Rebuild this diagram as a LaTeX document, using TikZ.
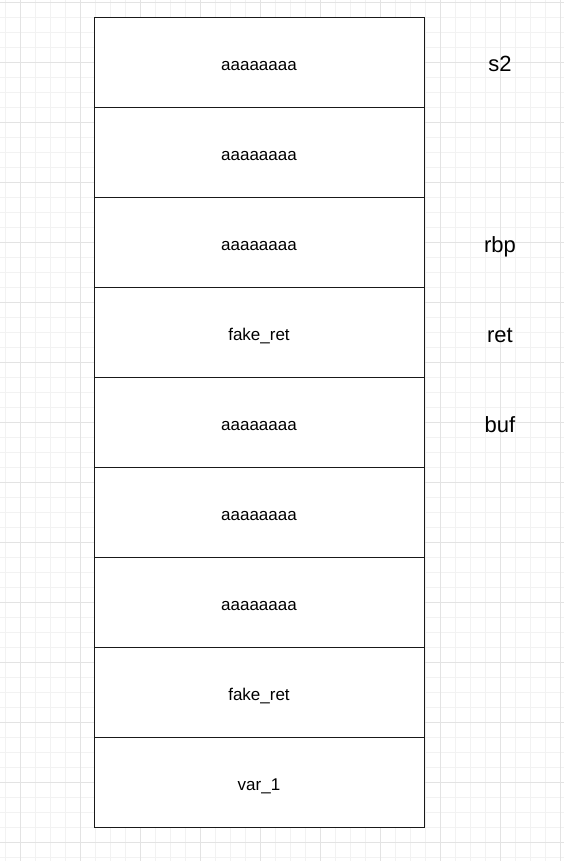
\documentclass[tikz,border=0pt]{standalone}
\usepackage{fontspec}
\setmainfont{Liberation Sans}
\begin{document}
\begin{tikzpicture}[
    x=1pt, y=-1pt,
    cell/.style={rectangle, minimum width=330pt, minimum height=90pt, text centered, text height=17pt, text depth=0pt, draw=black!90, fill=white, line width=0.9pt, font=\fontsize{17}{20}\selectfont},
    side/.style={text height=16pt, text depth=0pt, font=\fontsize{22}{26}\selectfont},
    minorgrid/.style={draw=black!5, line width=0.8pt},
    majorgrid/.style={draw=black!11, line width=0.8pt}
  ]
    \useasboundingbox[fill=white] (0,0) rectangle (564,861);
    \begin{scope}[shift={(20,2)}]
      \draw[minorgrid, step=15pt] (-20,-2) grid (544,859);
      \draw[majorgrid, step=60pt] (-20,-2) grid (544,859);
    \end{scope}

    \node[cell] (pad1) at (259, 62) {aaaaaaaa};
    \node[cell] (pad2) at (259, 152) {aaaaaaaa};
    \node[cell] (pad3) at (259, 242) {aaaaaaaa};
    \node[cell] (ret1) at (259, 332) {fake\_ret};
    \node[cell] (buf1) at (259, 422) {aaaaaaaa};
    \node[cell] (buf2) at (259, 512) {aaaaaaaa};
    \node[cell] (buf3) at (259, 602) {aaaaaaaa};
    \node[cell] (ret2) at (259, 692) {fake\_ret};
    \node[cell] (var1) at (259, 782) {var\_1};

    \node[side] (s2) at (500, 64) {s2};
    \node[side] (rbp) at (500, 244) {rbp};
    \node[side] (ret) at (500, 334) {ret};
    \node[side] (buf) at (500, 424) {buf};

  \end{tikzpicture}
\end{document}
